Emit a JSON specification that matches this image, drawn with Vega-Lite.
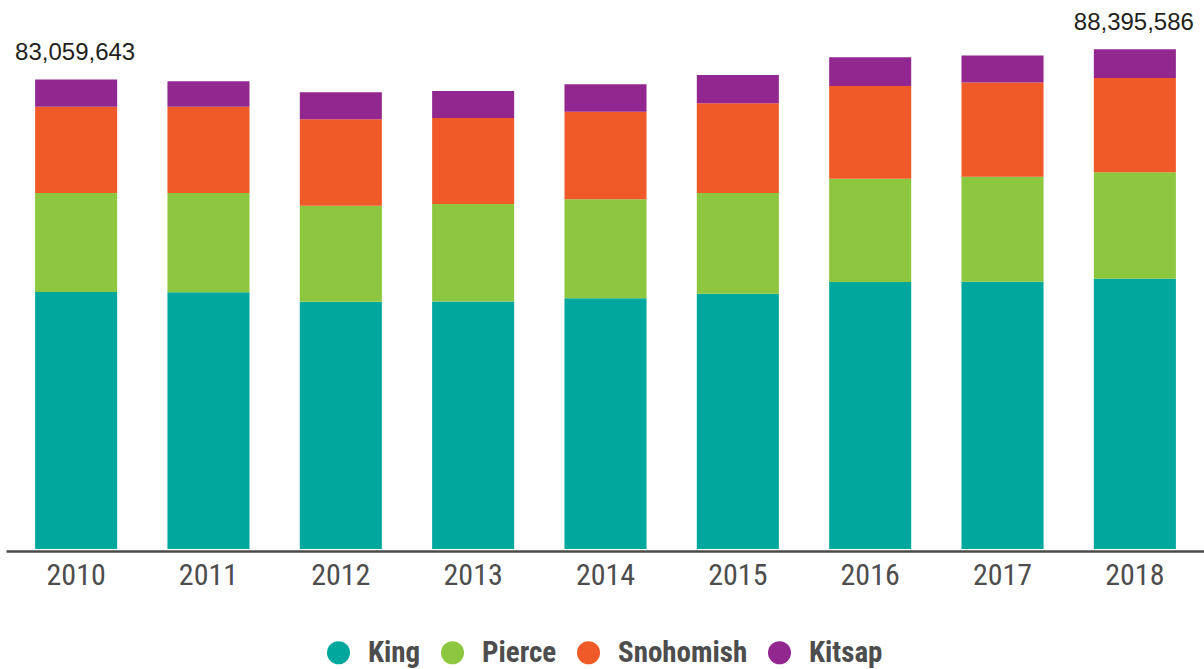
{
  "$schema": "https://vega.github.io/schema/vega-lite/v6.json",
  "width": 1199,
  "height": 549,
  "autosize": {"type": "none"},
  "padding": {"left": 6, "top": 0, "right": 0, "bottom": 120},
  "background": "white",
  "config": {"view": {"stroke": null}},
  "data": {
    "values": [
      {"year": "2010", "county": "King", "value": 45460000},
      {"year": "2010", "county": "Pierce", "value": 17510000},
      {"year": "2010", "county": "Snohomish", "value": 15260000},
      {"year": "2010", "county": "Kitsap", "value": 4829643},
      {"year": "2011", "county": "King", "value": 45420000},
      {"year": "2011", "county": "Pierce", "value": 17530000},
      {"year": "2011", "county": "Snohomish", "value": 15270000},
      {"year": "2011", "county": "Kitsap", "value": 4490000},
      {"year": "2012", "county": "King", "value": 43740000},
      {"year": "2012", "county": "Pierce", "value": 16980000},
      {"year": "2012", "county": "Snohomish", "value": 15280000},
      {"year": "2012", "county": "Kitsap", "value": 4780000},
      {"year": "2013", "county": "King", "value": 43760000},
      {"year": "2013", "county": "Pierce", "value": 17280000},
      {"year": "2013", "county": "Snohomish", "value": 15210000},
      {"year": "2013", "county": "Kitsap", "value": 4770000},
      {"year": "2014", "county": "King", "value": 44340000},
      {"year": "2014", "county": "Pierce", "value": 17510000},
      {"year": "2014", "county": "Snohomish", "value": 15490000},
      {"year": "2014", "county": "Kitsap", "value": 4850000},
      {"year": "2015", "county": "King", "value": 45150000},
      {"year": "2015", "county": "Pierce", "value": 17810000},
      {"year": "2015", "county": "Snohomish", "value": 15870000},
      {"year": "2015", "county": "Kitsap", "value": 5010000},
      {"year": "2016", "county": "King", "value": 47220000},
      {"year": "2016", "county": "Pierce", "value": 18270000},
      {"year": "2016", "county": "Snohomish", "value": 16400000},
      {"year": "2016", "county": "Kitsap", "value": 5080000},
      {"year": "2017", "county": "King", "value": 47250000},
      {"year": "2017", "county": "Pierce", "value": 18570000},
      {"year": "2017", "county": "Snohomish", "value": 16680000},
      {"year": "2017", "county": "Kitsap", "value": 4780000},
      {"year": "2018", "county": "King", "value": 47810000},
      {"year": "2018", "county": "Pierce", "value": 18820000},
      {"year": "2018", "county": "Snohomish", "value": 16680000},
      {"year": "2018", "county": "Kitsap", "value": 5085586}
    ]
  },
  "encoding": {
    "x": {
      "field": "year",
      "type": "nominal",
      "scale": {"paddingInner": 0.38, "paddingOuter": 0.22},
      "axis": {
        "title": null,
        "labelAngle": 0,
        "ticks": false,
        "domainColor": "#4a4a4a",
        "domainWidth": 2.5,
        "offset": 2,
        "labelPadding": 9,
        "labelFont": "Roboto Condensed, Liberation Sans Narrow, Roboto",
        "labelFontSize": 30,
        "labelColor": "#4d4d4d",
        "grid": false
      }
    }
  },
  "layer": [
    {
      "transform": [
        {"calculate": "indexof(['King','Pierce','Snohomish','Kitsap'], datum.county)", "as": "stackOrder"}
      ],
      "mark": {"type": "bar"},
      "encoding": {
        "y": {
          "field": "value",
          "type": "quantitative",
          "aggregate": "sum",
          "stack": "zero",
          "scale": {"domain": [0, 97100000], "nice": false, "zero": true},
          "axis": null
        },
        "color": {
          "field": "county",
          "type": "nominal",
          "sort": ["King", "Pierce", "Snohomish", "Kitsap"],
          "scale": {
            "domain": ["King", "Pierce", "Snohomish", "Kitsap"],
            "range": ["#00A79D", "#8DC63F", "#F05A28", "#92278F"]
          },
          "legend": {
            "title": null,
            "orient": "none",
            "legendX": 318,
            "legendY": 638,
            "direction": "horizontal",
            "symbolType": "circle",
            "symbolSize": 530,
            "symbolStrokeWidth": 0,
            "symbolOpacity": 1,
            "labelFont": "Roboto Condensed, Liberation Sans Narrow, Roboto",
            "labelFontWeight": "bold",
            "labelFontSize": 29,
            "labelColor": "#4d4d4d",
            "labelOffset": 15,
            "columnPadding": 17
          }
        },
        "order": {"field": "stackOrder", "type": "quantitative", "sort": "ascending"}
      }
    },
    {
      "transform": [
        {"filter": {"field": "year", "oneOf": ["2010", "2018"]}},
        {"aggregate": [{"op": "sum", "field": "value", "as": "total"}], "groupby": ["year"]}
      ],
      "mark": {
        "type": "text",
        "baseline": "alphabetic",
        "dy": -19,
        "dx": -1,
        "font": "Liberation Sans",
        "fontSize": 24,
        "color": "#231f20"
      },
      "encoding": {
        "y": {"field": "total", "type": "quantitative"},
        "text": {"field": "total", "type": "quantitative", "format": ","}
      }
    }
  ]
}
